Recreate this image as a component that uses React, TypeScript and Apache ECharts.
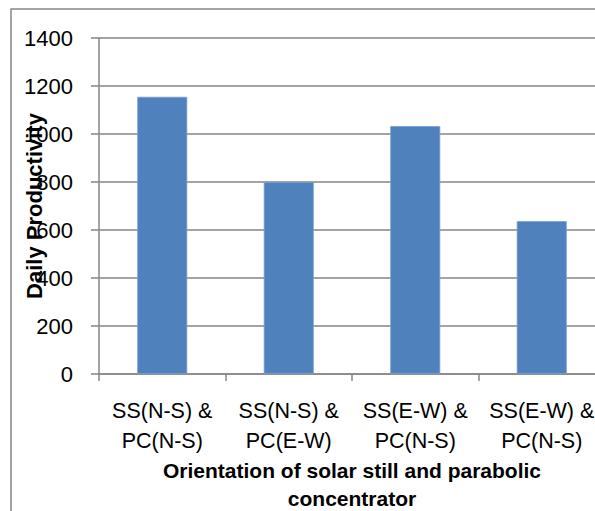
import React, { useEffect, useRef } from "react";
import * as echarts from "echarts";

const categories = [
  "SS(N-S) &\nPC(N-S)",
  "SS(N-S) &\nPC(E-W)",
  "SS(E-W) &\nPC(N-S)",
  "SS(E-W) &\nPC(N-S)",
];
const productivity = [1155, 800, 1033, 637];
const yTicks = { min: 0, max: 1400, interval: 200 };
const xTitle = "Orientation of solar still and parabolic\nconcentrator";
const yTitle = "Daily Productivity";

const FONT = "Liberation Sans, Arial, sans-serif";
const GRAY = "#868686";

export default function App() {
  const ref = useRef<HTMLDivElement>(null);
  useEffect(() => {
    document.body.style.margin = "0";
    const chart = echarts.init(ref.current!, null, { renderer: "svg" });
    chart.setOption({
      animation: false,
      backgroundColor: "#ffffff",
      grid: { left: 99, top: 38, bottom: 137, right: 20, containLabel: false },
      xAxis: {
        type: "category",
        data: categories,
        axisLine: { show: true, lineStyle: { color: GRAY, width: 1.5 } },
        axisTick: { show: true, length: 7, lineStyle: { color: GRAY, width: 1.5 } },
        axisLabel: {
          interval: 0,
          margin: 22,
          color: "#000",
          fontFamily: FONT,
          fontSize: 21.5,
          lineHeight: 30,
        },
        splitLine: { show: false },
      },
      yAxis: {
        type: "value",
        min: yTicks.min,
        max: yTicks.max,
        interval: yTicks.interval,
        axisLine: { show: true, lineStyle: { color: GRAY, width: 1.5 } },
        axisTick: { show: true, length: 8, lineStyle: { color: GRAY, width: 1.5 } },
        axisLabel: {
          margin: 26,
          color: "#000",
          fontFamily: FONT,
          fontSize: 22,
          formatter: (v: number) => String(v),
        },
        splitLine: { show: true, lineStyle: { color: GRAY, width: 1.5 } },
      },
      series: [
        {
          type: "bar",
          data: productivity,
          barWidth: 50,
          itemStyle: { color: "#4F81BD", borderColor: "#7A9FD0", borderWidth: 0.8 },
        },
      ],
      graphic: [
        {
          type: "rect",
          shape: { x: 11, y: 9, width: 800, height: 800 },
          style: { fill: "none", stroke: GRAY, lineWidth: 1.5 },
          z: 0,
        },
        {
          type: "text",
          x: 34,
          y: 206,
          rotation: Math.PI / 2,
          z: 100,
          style: {
            text: yTitle,
            fill: "#000",
            font: `bold 22px ${FONT}`,
            textAlign: "center",
            textVerticalAlign: "middle",
          },
        },
        {
          type: "text",
          x: 352,
          y: 484,
          z: 100,
          style: {
            text: xTitle,
            fill: "#000",
            font: `bold 21px ${FONT}`,
            lineHeight: 28,
            textAlign: "center",
            textVerticalAlign: "middle",
          },
        },
      ],
    });
    return () => chart.dispose();
  }, []);
  return (
    <div style={{ width: 595, height: 511, overflow: "hidden", position: "relative" }}>
      <div ref={ref} style={{ width: 625, height: 511 }} />
    </div>
  );
}
